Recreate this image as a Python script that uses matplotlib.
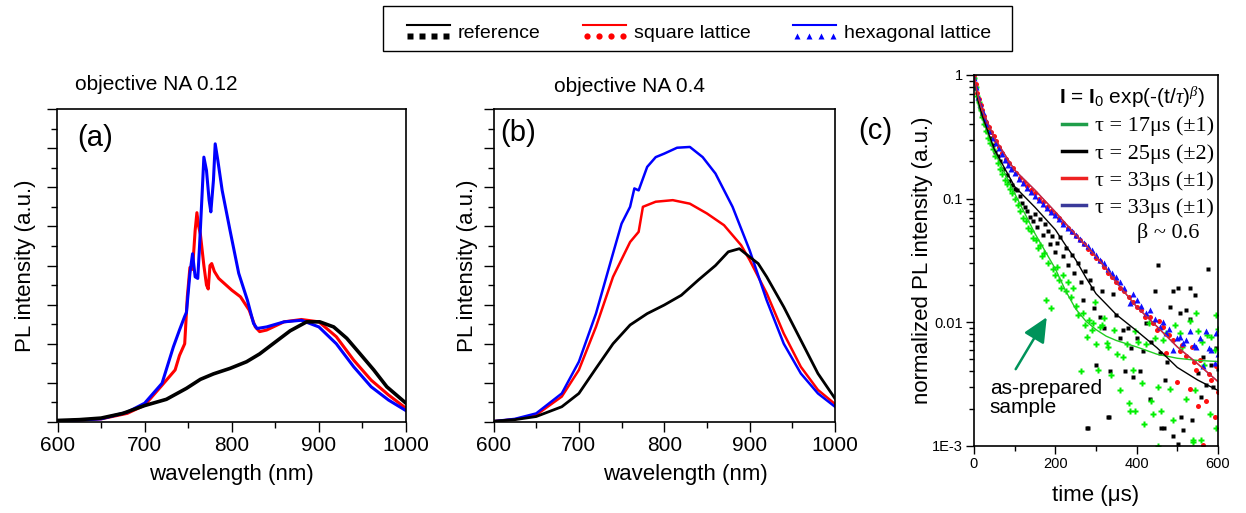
import numpy as np
import matplotlib
matplotlib.use("Agg")
import matplotlib.pyplot as plt
from matplotlib.lines import Line2D
from matplotlib.patches import Rectangle
from matplotlib.legend_handler import HandlerBase
from matplotlib.ticker import MultipleLocator, FixedLocator, FixedFormatter, NullFormatter
from types import SimpleNamespace

plt.rcParams['font.family'] = ['Liberation Sans', 'DejaVu Sans']
plt.rcParams['mathtext.fontset'] = 'custom'
plt.rcParams['mathtext.rm'] = 'Liberation Sans'
plt.rcParams['mathtext.bf'] = 'Liberation Sans:bold'
plt.rcParams['mathtext.it'] = 'Liberation Serif:italic'

# ---- panel (a): objective NA 0.12 ----
a_ref_wl = [600, 625, 650, 675, 700, 725, 748, 764, 779, 798, 817, 832, 848, 867, 886, 901, 917, 932, 947, 963, 978, 1000]
a_ref_I = [0.04, 0.06, 0.1, 0.22, 0.42, 0.58, 0.86, 1.09, 1.23, 1.37, 1.54, 1.74, 2.01, 2.33, 2.56, 2.56, 2.43, 2.14, 1.75, 1.33, 0.9, 0.48]

a_sq_wl = [600, 650, 680, 700, 720, 735, 740, 746, 749, 752, 755, 758, 760, 762, 764, 768, 771, 773, 775, 777, 780, 785,
           800, 810, 820, 827, 832, 840, 860, 880, 900, 920, 940, 960, 980, 1000]
a_sq_I = [0.02, 0.08, 0.22, 0.43, 0.94, 1.33, 1.7, 2.0, 3.2, 3.95, 3.9, 4.9, 5.35, 5.0, 4.8, 4.0, 3.5, 3.4, 4.0, 4.05, 3.85, 3.67,
          3.37, 3.2, 2.86, 2.43, 2.31, 2.35, 2.56, 2.62, 2.56, 2.18, 1.58, 1.07, 0.69, 0.35]

a_hex_wl = [600, 650, 680, 700, 720, 733, 740, 746, 748, 752, 755, 758, 761, 763, 766, 768, 771, 774, 776, 779, 781, 784,
            789, 798, 808, 818, 825, 829, 840, 860, 880, 900, 920, 940, 960, 980, 1000]
a_hex_I = [0.02, 0.08, 0.25, 0.48, 0.99, 1.92, 2.35, 2.7, 2.8, 3.8, 4.3, 3.71, 3.67, 4.48, 5.84, 6.77, 6.43, 5.67, 5.37, 6.18, 7.11, 6.69,
           5.92, 4.9, 3.8, 3.11, 2.52, 2.39, 2.43, 2.56, 2.6, 2.43, 2.0, 1.41, 0.9, 0.56, 0.29]

# ---- panel (b): objective NA 0.4 ----
b_ref_wl = [600, 625, 650, 680, 700, 720, 740, 760, 780, 800, 820, 840, 860, 875, 888, 900, 910, 920, 940, 960, 980, 1000]
b_ref_I = [0.02, 0.06, 0.14, 0.39, 0.73, 1.37, 2.0, 2.48, 2.77, 2.99, 3.24, 3.63, 4.0, 4.35, 4.43, 4.22, 4.05, 3.71, 2.94, 2.09, 1.24, 0.6]

b_sq_wl = [600, 625, 650, 680, 700, 720, 740, 760, 770, 775, 790, 810, 830, 850, 870, 890, 900, 920, 940, 960, 980, 1000]
b_sq_I = [0.02, 0.07, 0.18, 0.65, 1.33, 2.43, 3.71, 4.6, 4.86, 5.5, 5.63, 5.67, 5.58, 5.33, 5.03, 4.52, 4.14, 3.29, 2.26, 1.41, 0.82, 0.46]

b_hex_wl = [600, 625, 650, 680, 700, 720, 740, 750, 760, 765, 770, 780, 790, 800, 815, 830, 845, 860, 880, 900, 920, 940, 960, 980, 1000]
b_hex_I = [0.02, 0.08, 0.22, 0.73, 1.54, 2.77, 4.31, 5.07, 5.5, 5.97, 5.92, 6.52, 6.77, 6.86, 7.01, 7.03, 6.77, 6.35, 5.5, 4.39, 3.11, 2.0, 1.24, 0.73, 0.39]

# ---- panel (c): decay, measured points ----
red_t = [0, 4, 8, 12, 16, 20, 25, 30, 36, 42, 48, 55, 62, 70, 78, 86, 95, 104, 113, 122, 131, 140, 150, 160, 170, 180, 190, 200,
         210, 220, 230, 240, 250, 260, 270, 280, 290, 300, 310, 320, 330, 340, 350, 360, 370, 380, 390, 400, 410, 420, 432, 440,
         449, 455, 464, 473, 480, 489, 498, 506, 512, 522, 530, 535, 540, 547, 550, 555, 563, 571, 578, 584, 592, 596, 600]
red_I = [1.0, 0.85, 0.72, 0.64, 0.57, 0.52, 0.47, 0.42, 0.38, 0.345, 0.32, 0.29, 0.26, 0.235, 0.21, 0.195, 0.178, 0.162, 0.148,
         0.137, 0.127, 0.118, 0.11, 0.1, 0.094, 0.086, 0.08, 0.075, 0.069, 0.064, 0.058, 0.054, 0.05, 0.046, 0.043, 0.039, 0.036,
         0.033, 0.031, 0.028, 0.025, 0.023, 0.021, 0.019, 0.018, 0.016, 0.0145, 0.0133, 0.0125, 0.011, 0.011, 0.0098, 0.0087,
         0.0102, 0.0092, 0.0056, 0.0078, 0.0072, 0.0033, 0.0058, 0.0065, 0.0053, 0.0029, 0.0063, 0.0048, 0.0041, 0.0021, 0.0049,
         0.00102, 0.0023, 0.0038, 0.0034, 0.0017, 0.0044, 0.0027]

blue_t = [0, 5, 10, 15, 21, 27, 33, 40, 47, 54, 61, 68, 76, 84, 92, 100, 110, 120, 130, 140, 150, 160, 170, 180, 190, 200, 210,
          220, 230, 240, 250, 260, 270, 280, 290, 300, 310, 320, 330, 340, 350, 360, 370, 383, 390, 400, 410, 424, 432, 445, 457,
          465, 473, 480, 489, 498, 506, 515, 522, 530, 540, 547, 555, 563, 571, 578, 584, 592, 596, 600]
blue_I = [0.95, 0.8, 0.66, 0.58, 0.5, 0.44, 0.4, 0.35, 0.31, 0.28, 0.255, 0.23, 0.205, 0.188, 0.172, 0.16, 0.145, 0.134, 0.122,
          0.113, 0.105, 0.098, 0.09, 0.084, 0.078, 0.073, 0.068, 0.062, 0.058, 0.055, 0.051, 0.047, 0.044, 0.041, 0.038, 0.035,
          0.032, 0.03, 0.027, 0.025, 0.023, 0.021, 0.019, 0.0142, 0.017, 0.015, 0.0135, 0.0118, 0.0125, 0.0107, 0.0092, 0.01,
          0.0082, 0.0088, 0.0059, 0.0075, 0.0076, 0.0068, 0.0072, 0.0084, 0.0065, 0.0063, 0.0075, 0.0044, 0.0084, 0.0062, 0.0059,
          0.0047, 0.0081, 0.0055]

black_t = [0, 5, 10, 15, 20, 27, 33, 39, 46, 52, 58, 65, 72, 80, 87, 93, 100, 106, 113, 119, 125, 131, 138, 145, 150, 154, 162,
           170, 175, 182, 187, 193, 199, 205, 211, 218, 225, 232, 240, 247, 255, 262, 268, 273, 277, 281, 285, 289, 295, 301, 309,
           314, 320, 330, 332, 334, 342, 350, 358, 366, 372, 379, 385, 391, 400, 408, 416, 424, 432, 436, 445, 453, 457, 461, 467,
           469, 475, 481, 490, 490, 502, 502, 506, 510, 515, 522, 530, 530, 535, 543, 550, 558, 563, 571, 575, 584, 588, 594, 600]
black_I = [0.95, 0.78, 0.64, 0.55, 0.48, 0.4, 0.35, 0.31, 0.27, 0.24, 0.22, 0.2, 0.175, 0.155, 0.14, 0.129, 0.12, 0.118, 0.104,
           0.092, 0.085, 0.079, 0.071, 0.066, 0.075, 0.059, 0.068, 0.051, 0.062, 0.055, 0.043, 0.05, 0.037, 0.044, 0.049, 0.034,
           0.04, 0.029, 0.035, 0.025, 0.03, 0.021, 0.015, 0.026, 0.0014, 0.00138, 0.022, 0.019, 0.013, 0.0045, 0.011, 0.018,
           0.009, 0.0017, 0.0017, 0.004, 0.017, 0.0114, 0.0075, 0.0087, 0.004, 0.009, 0.0062, 0.0036, 0.0075, 0.004, 0.0058,
           0.0099, 0.0024, 0.0069, 0.018, 0.029, 0.0056, 0.0014, 0.0014, 0.0034, 0.0048, 0.0133, 0.018, 0.0012, 0.019, 0.00104,
           0.0118, 0.0017, 0.00135, 0.0126, 0.0107, 0.019, 0.0016, 0.0166, 0.0039, 0.0025, 0.0052, 0.0031, 0.027, 0.0045, 0.003,
           0.0062, 0.0042]

green_t = [0, 4, 8, 12, 16, 20, 25, 30, 35, 40, 46, 52, 58, 64, 70, 76, 82, 88, 94, 100, 107, 114, 120, 127, 133, 140, 146, 152,
           158, 163, 168, 173, 178, 183, 189, 194, 200, 205, 210, 215, 220, 226, 232, 238, 244, 250, 256, 264, 268, 273, 277, 283,
           289, 293, 297, 301, 305, 309, 314, 320, 326, 330, 338, 345, 352, 360, 367, 375, 382, 383, 391, 395, 395, 403, 412, 418,
           424, 430, 436, 440, 445, 453, 453, 461, 465, 473, 481, 489, 495, 506, 512, 522, 530, 538, 539, 543, 547, 552, 559, 560,
           566, 573, 580, 584, 592, 596, 596, 600]
green_I = [0.95, 0.8, 0.68, 0.6, 0.52, 0.46, 0.4, 0.35, 0.31, 0.28, 0.25, 0.22, 0.195, 0.175, 0.158, 0.142, 0.13, 0.12, 0.11,
           0.1, 0.088, 0.079, 0.07, 0.066, 0.058, 0.055, 0.048, 0.046, 0.04, 0.042, 0.034, 0.036, 0.015, 0.03, 0.013, 0.027, 0.024,
           0.028, 0.022, 0.019, 0.024, 0.018, 0.021, 0.016, 0.019, 0.0135, 0.0115, 0.004, 0.0118, 0.0095, 0.0076, 0.0105, 0.0087,
           0.0098, 0.0145, 0.0066, 0.0041, 0.0092, 0.0095, 0.0108, 0.0068, 0.0063, 0.0037, 0.0086, 0.0055, 0.0028, 0.0052, 0.0066,
           0.0022, 0.0019, 0.0041, 0.0084, 0.0019, 0.0069, 0.0032, 0.0015, 0.0066, 0.0098, 0.0023, 0.0018, 0.0075, 0.003, 0.001,
           0.0019, 0.0072, 0.0082, 0.0029, 0.0016, 0.0095, 0.0081, 0.0063, 0.0024, 0.0102, 0.00108, 0.00111, 0.0028, 0.0118,
           0.0084, 0.00111, 0.0069, 0.0045, 0.0078, 0.0018, 0.0076, 0.0059, 0.0114, 0.0014, 0.0088]

# ---- panel (c): stretched-exponential fit curves ----
fit_t = [0, 10, 20, 50, 100, 150, 200, 225, 250, 275, 300, 325, 350, 400, 450, 500, 550, 600]
fit_red = [1.0, 0.67, 0.52, 0.31, 0.17, 0.117, 0.078, 0.063, 0.051, 0.042, 0.034, 0.027, 0.021, 0.0133, 0.0092, 0.0063, 0.0046, 0.0033]
fit_black = [1.0, 0.62, 0.47, 0.25, 0.125, 0.085, 0.056, 0.042, 0.032, 0.023, 0.017, 0.014, 0.0115, 0.0085, 0.0062, 0.0043, 0.0034, 0.0028]
fit_green = [1.0, 0.58, 0.45, 0.24, 0.11, 0.052, 0.027, 0.018, 0.0128, 0.0102, 0.0087, 0.0077, 0.0071, 0.0063, 0.0055, 0.0051, 0.0049, 0.0048]

series_names = ['reference', 'square lattice', 'hexagonal lattice']
fit_labels = ['τ = 17μs (±1)', 'τ = 25μs (±2)', 'τ = 33μs (±1)', 'τ = 33μs (±1)']

W, H = 1246, 513
fig = plt.figure(figsize=(W / 100, H / 100), dpi=100)


def px_axes(left, top, right, bottom):
    return fig.add_axes([left / W, 1 - bottom / H, (right - left) / W, (bottom - top) / H])


def style_spectrum(ax):
    ax.set_xlim(600, 1000)
    ax.set_ylim(0, 8)
    ax.xaxis.set_major_locator(MultipleLocator(100))
    ax.xaxis.set_minor_locator(MultipleLocator(50))
    ax.yaxis.set_major_locator(MultipleLocator(1))
    ax.yaxis.set_minor_locator(MultipleLocator(0.5))
    ax.yaxis.set_major_formatter(NullFormatter())
    ax.tick_params(which='major', direction='out', length=7, width=1, labelsize=15, pad=3)
    ax.tick_params(which='minor', direction='out', length=4, width=1)
    ax.tick_params(top=False, right=False)
    for s in ax.spines.values():
        s.set_linewidth(1.2)
    ax.set_xlabel('wavelength (nm)', fontsize=16)
    ax.set_ylabel('PL intensity (a.u.)', fontsize=16)


ax_a = px_axes(57.5, 109, 406, 422)
ax_a.plot(a_sq_wl, a_sq_I, color='#ff0000', lw=2.2)
ax_a.plot(a_hex_wl, a_hex_I, color='#0000ff', lw=2.2)
ax_a.plot(a_ref_wl, a_ref_I, color='black', lw=2.6)
style_spectrum(ax_a)
ax_a.yaxis.set_label_coords(-0.062, 0.5)
ax_a.xaxis.set_label_coords(0.5, -0.135)
ax_a.text(0.056, 0.907, '(a)', transform=ax_a.transAxes, fontsize=21, va='center', ha='left')

ax_b = px_axes(493.5, 109, 835, 422)
ax_b.plot(b_sq_wl, b_sq_I, color='#ff0000', lw=1.8)
ax_b.plot(b_hex_wl, b_hex_I, color='#0000ff', lw=1.8)
ax_b.plot(b_ref_wl, b_ref_I, color='black', lw=2.0)
style_spectrum(ax_b)
ax_b.yaxis.set_label_coords(-0.045, 0.5)
ax_b.xaxis.set_label_coords(0.561, -0.135)
ax_b.text(0.019, 0.923, '(b)', transform=ax_b.transAxes, fontsize=21, va='center', ha='left')

fig.text(156 / W, 1 - 85 / H, 'objective NA 0.12', fontsize=15, ha='center', va='center')
fig.text(630 / W, 1 - 87 / H, 'objective NA 0.4', fontsize=15, ha='center', va='center')

# ---- panel (c) ----
ax_c = px_axes(974, 75, 1218, 445.7)
ax_c.plot(black_t, black_I, ls='none', marker='s', ms=3.2, color='black', mec='none')
ax_c.plot(green_t, green_I, ls='none', marker='P', ms=4.5, color='#00ee00', mec='none')
ax_c.plot(red_t, red_I, ls='none', marker='o', ms=3.6, color='#ff1010', mec='none')
ax_c.plot(blue_t, blue_I, ls='none', marker='^', ms=3.8, color='#1010ff', mec='none')
ax_c.plot(fit_t, fit_green, color='#22cc22', lw=1.0)
ax_c.plot(fit_t, fit_black, color='black', lw=1.0)
ax_c.plot(fit_t, fit_red, color='#333399', lw=1.0)
ax_c.plot(fit_t, fit_red, color='#ff2020', lw=1.0, alpha=0.8)
ax_c.set_yscale('log')
ax_c.set_xlim(0, 600)
ax_c.set_ylim(1e-3, 1)
ax_c.xaxis.set_major_locator(MultipleLocator(200))
ax_c.xaxis.set_minor_locator(MultipleLocator(100))
ax_c.yaxis.set_major_locator(FixedLocator([1e-3, 1e-2, 1e-1, 1]))
ax_c.yaxis.set_major_formatter(FixedFormatter(['1E-3', '0.01', '0.1', '1']))
ax_c.tick_params(which='major', direction='out', length=6, width=1, labelsize=10.5, pad=2)
ax_c.tick_params(which='minor', direction='out', length=3.5, width=1)
ax_c.yaxis.set_minor_formatter(NullFormatter())
for s in ax_c.spines.values():
    s.set_linewidth(1.2)
ax_c.set_xlabel('time (μs)', fontsize=16)
ax_c.set_ylabel('normalized PL intensity (a.u.)', fontsize=16)
ax_c.yaxis.set_label_coords(-0.168, 0.5)
ax_c.xaxis.set_label_coords(0.5, -0.105)

ax_c.text(0.947, 0.94, r'$\mathbf{I}$ = $\mathbf{I}_0$ exp(-(t/$\tau$)$^{\beta}$)', transform=ax_c.transAxes,
          fontsize=15, ha='right', va='center')
fit_handles = [Line2D([], [], color='#1f9e4a', lw=2.5), Line2D([], [], color='black', lw=2.5),
               Line2D([], [], color='#ee2222', lw=2.5), Line2D([], [], color='#3a3a9a', lw=2.5)]
leg_c = ax_c.legend(fit_handles, fit_labels, loc='upper left', bbox_to_anchor=(0.36, 0.89), frameon=False,
                    prop={'family': 'Liberation Serif', 'size': 16}, handlelength=1.1, handletextpad=0.4,
                    labelspacing=0.3, borderpad=0, borderaxespad=0)
ax_c.text(0.668, 0.574, 'β ~ 0.6', transform=ax_c.transAxes, fontsize=16, family='Liberation Serif',
          ha='left', va='center')
ax_c.annotate('', xy=(0.304, 0.353), xytext=(0.165, 0.2), xycoords='axes fraction', textcoords='axes fraction',
              arrowprops=dict(arrowstyle='-|>,head_length=1.5,head_width=0.7', color='#00935a', lw=1.8))
ax_c.text(0.065, 0.13, 'as-prepared\nsample', transform=ax_c.transAxes, fontsize=15, ha='left', va='center',
          linespacing=1.0)
fig.text(875 / W, 1 - 131 / H, '(c)', fontsize=21, ha='center', va='center')


# ---- top legend: line above a row of dots ----
class LineDots(HandlerBase):
    def create_artists(self, legend, orig_handle, xdescent, ydescent, width, height, fontsize, trans):
        x0, x1 = -xdescent, width - xdescent
        line = Line2D([x0, x1], [height * 0.95 - ydescent] * 2, color=orig_handle.color, lw=1.5, transform=trans)
        xs = np.linspace(x0 + width * 0.08, x1 - width * 0.08, 4)
        dots = Line2D(xs, [-ydescent + height * 0.1] * 4, ls='none', marker=orig_handle.marker, ms=4.5,
                      color=orig_handle.color, mec='none', transform=trans)
        return [line, dots]


top_handles = [SimpleNamespace(color='black', marker='s'), SimpleNamespace(color='#ff0000', marker='o'),
               SimpleNamespace(color='#0000ff', marker='^')]
fig.legend(top_handles, series_names, handler_map={SimpleNamespace: LineDots()}, loc='center',
           bbox_to_anchor=(699 / W, 1 - 33 / H), ncol=3, fontsize=14, frameon=False,
           handlelength=2.2, handletextpad=0.4, columnspacing=2.2, borderpad=0, borderaxespad=0)
fig.patches.append(Rectangle((383 / W, 1 - 51 / H), 629 / W, 45 / H, transform=fig.transFigure,
                             fill=False, edgecolor='black', lw=1.0))

fig.savefig('out.png', dpi=100)
